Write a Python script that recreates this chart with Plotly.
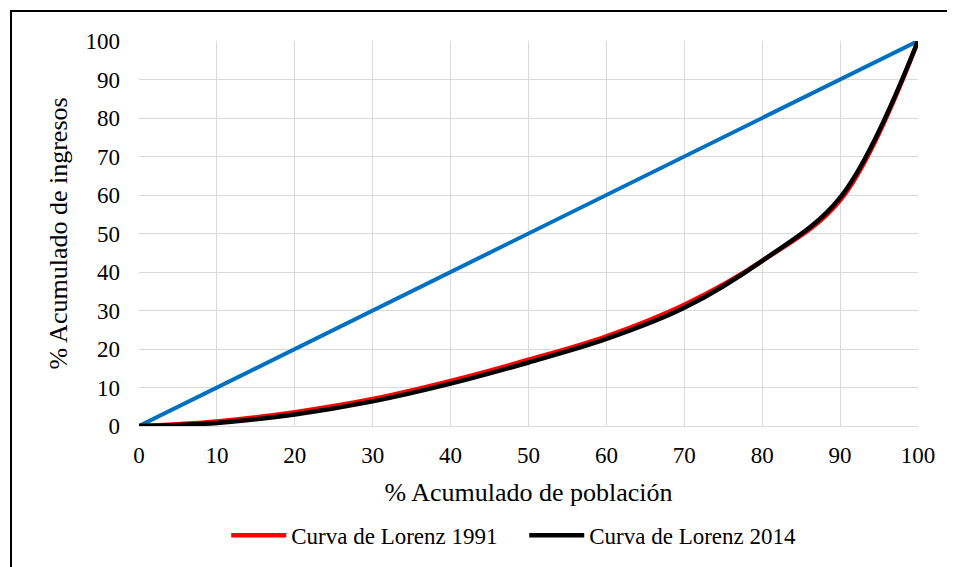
import plotly.graph_objects as go

poblacion = [0, 10, 20, 30, 40, 50, 60, 70, 80, 90, 100]
igualdad = [0, 10, 20, 30, 40, 50, 60, 70, 80, 90, 100]
lorenz_1991 = [0, 1.2, 3.6, 7.0, 11.7, 17.2, 23.3, 31.5, 42.9, 58.6, 100]
lorenz_2014 = [0, 0.8, 3.0, 6.4, 11.0, 16.5, 22.6, 30.7, 42.9, 59.3, 100]
ticks = [0, 10, 20, 30, 40, 50, 60, 70, 80, 90, 100]

FONT = "Liberation Serif"

fig = go.Figure()
fig.add_trace(go.Scatter(x=poblacion, y=igualdad, mode="lines",
                         line=dict(color="#0070C0", width=4),
                         showlegend=False, hoverinfo="skip"))
fig.add_trace(go.Scatter(x=poblacion, y=lorenz_1991, mode="lines",
                         name="Curva de Lorenz 1991",
                         line=dict(color="#FF0000", width=4.5, shape="spline", smoothing=1)))
fig.add_trace(go.Scatter(x=poblacion, y=lorenz_2014, mode="lines",
                         name="Curva de Lorenz 2014",
                         line=dict(color="#000000", width=4.5, shape="spline", smoothing=1)))

fig.update_layout(
    width=947, height=559,
    margin=dict(l=131, r=37, t=33, b=141, autoexpand=False),
    paper_bgcolor="white", plot_bgcolor="white",
    font=dict(family=FONT, size=23, color="black"),
    legend=dict(orientation="h", x=0.112, xanchor="left", y=-0.284, yanchor="middle",
                font=dict(size=23, family=FONT), itemwidth=55,
                entrywidth=228, entrywidthmode="pixels", tracegroupgap=0,
                bgcolor="rgba(0,0,0,0)"),
    shapes=[dict(type="rect", xref="paper", yref="paper",
                 x0=-0.1643, x1=1.2, y0=-0.6, y1=1.078,
                 line=dict(color="black", width=2), fillcolor="rgba(0,0,0,0)",
                 layer="above")],
)
fig.update_xaxes(range=[0, 100], tickvals=ticks, ticktext=[str(t) for t in ticks],
                 showgrid=True, gridcolor="#D9D9D9", gridwidth=1.3,
                 showline=True, linecolor="#D9D9D9", linewidth=1.3,
                 zeroline=False, ticks="", ticklabelstandoff=8,
                 tickfont=dict(size=23, family=FONT),
                 title=dict(text="% Acumulado de población", font=dict(size=26, family=FONT), standoff=16))
fig.update_yaxes(range=[0, 100], tickvals=ticks, ticktext=[str(t) for t in ticks],
                 showgrid=True, gridcolor="#D9D9D9", gridwidth=1.3,
                 showline=False, zeroline=False, ticks="", ticklabelstandoff=18,
                 tickfont=dict(size=23, family=FONT),
                 title=dict(text="% Acumulado de ingresos", font=dict(size=26, family=FONT), standoff=10))

fig.write_html("out.html")
